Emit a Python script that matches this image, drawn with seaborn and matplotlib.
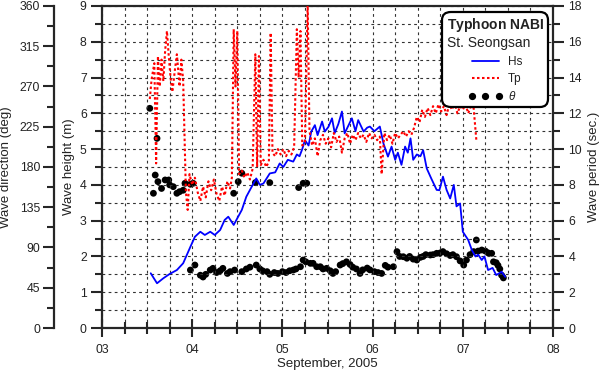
import matplotlib
matplotlib.use("Agg")
import matplotlib.pyplot as plt
from matplotlib.ticker import MultipleLocator, FuncFormatter
from matplotlib.lines import Line2D
import seaborn as sns

# 有义波高 Hs (m)
hs_day = [3.54, 3.61, 3.68, 3.75, 3.83, 3.90, 3.98, 4.03, 4.09, 4.14, 4.20, 4.25, 4.31, 4.36,
          4.40, 4.46, 4.55, 4.60, 4.66, 4.71, 4.75, 4.79, 4.83, 4.86, 4.92, 4.97, 5.01, 5.06,
          5.12, 5.16, 5.19, 5.22, 5.25, 5.29, 5.32, 5.36, 5.39, 5.44, 5.47, 5.51, 5.55, 5.58,
          5.62, 5.66, 5.69, 5.73, 5.77, 5.81, 5.84, 5.90, 5.94, 5.97, 6.02, 6.08, 6.12, 6.17,
          6.21, 6.25, 6.28, 6.32, 6.36, 6.39, 6.42, 6.45, 6.49, 6.53, 6.56, 6.60, 6.65, 6.71,
          6.74, 6.78, 6.82, 6.86, 6.90, 6.93, 6.97, 7.00, 7.06, 7.10, 7.14, 7.17, 7.21, 7.24,
          7.28, 7.33, 7.37, 7.43, 7.47]
hs_m = [1.53, 1.25, 1.39, 1.51, 1.62, 1.81, 2.27, 2.55, 2.69, 2.60, 2.69, 2.60, 2.74, 3.02,
        3.11, 2.88, 3.30, 3.67, 3.95, 4.18, 4.00, 4.04, 4.20, 4.32, 4.35, 4.60, 4.50, 4.70,
        4.65, 4.85, 4.80, 5.00, 5.25, 5.10, 5.49, 5.67, 5.39, 5.77, 5.49, 5.62, 5.86, 5.45,
        5.70, 6.05, 5.44, 5.65, 5.86, 5.50, 5.81, 5.49, 5.60, 5.63, 5.50, 5.63, 5.16, 4.79,
        5.07, 4.70, 4.90, 4.56, 5.07, 4.90, 5.30, 4.70, 4.85, 4.80, 4.97, 4.46, 4.18, 3.86,
        3.85, 4.23, 3.86, 3.62, 4.00, 3.40, 3.48, 2.69, 2.46, 2.18, 2.00, 2.05, 1.90, 2.00,
        1.62, 1.68, 1.48, 1.57, 1.43]

# 峰值周期 Tp (sec)
tp_day = [3.53, 3.55, 3.58, 3.60, 3.62, 3.64, 3.66, 3.68, 3.70, 3.72, 3.74, 3.76, 3.78, 3.81,
          3.83, 3.86, 3.88, 3.90, 3.93, 3.95, 3.97, 4.00, 4.03, 4.06, 4.09, 4.12, 4.15, 4.18,
          4.21, 4.24, 4.27, 4.30, 4.33, 4.36, 4.39, 4.42, 4.44, 4.46, 4.48, 4.50, 4.52, 4.55,
          4.58, 4.61, 4.64, 4.67, 4.70, 4.72, 4.74, 4.76, 4.79, 4.82, 4.85, 4.87, 4.89, 4.92,
          4.95, 4.98, 5.01, 5.04, 5.07, 5.10, 5.13, 5.16, 5.18, 5.20, 5.22, 5.25, 5.28, 5.30,
          5.33, 5.36, 5.39, 5.42, 5.45, 5.48, 5.51, 5.54, 5.57, 5.60, 5.63, 5.66, 5.69, 5.72,
          5.75, 5.78, 5.81, 5.84, 5.87, 5.90, 5.93, 5.96, 5.99, 6.02, 6.05, 6.08, 6.10, 6.13,
          6.16, 6.19, 6.22, 6.25, 6.28, 6.31, 6.34, 6.37, 6.40, 6.43, 6.46, 6.49, 6.52, 6.55,
          6.58, 6.61, 6.64, 6.67, 6.70, 6.73, 6.76, 6.79, 6.82, 6.85, 6.88, 6.91, 6.94, 6.97,
          7.00, 7.03, 7.06, 7.09, 7.12, 7.15]
tp_sec = [12.8, 13.9, 14.8, 9.2, 15.2, 13.5, 15.0, 13.8, 15.5, 16.6, 15.2, 14.0, 13.2, 14.5,
          15.3, 13.5, 15.0, 13.8, 7.6, 6.6, 8.6, 8.0, 8.4, 7.6, 7.1, 7.9, 7.3, 8.2,
          7.7, 8.3, 7.5, 7.1, 7.9, 7.4, 8.2, 7.8, 8.4, 16.7, 13.5, 16.6, 8.6, 8.8,
          8.4, 8.7, 8.3, 8.9, 15.3, 9.0, 15.2, 9.1, 9.4, 9.0, 9.3, 16.5, 9.8, 9.6,
          10.0, 9.7, 10.0, 9.6, 9.9, 9.7, 10.1, 16.7, 14.0, 16.6, 10.2, 10.4, 18.2, 11.0,
          10.2, 10.6, 9.6, 10.5, 10.8, 10.3, 10.6, 10.1, 10.9, 10.4, 10.7, 9.8, 10.6, 10.9,
          10.3, 10.8, 10.5, 10.9, 10.6, 10.8, 10.4, 10.9, 10.6, 10.8, 10.5, 10.7, 8.6, 10.9,
          10.5, 10.8, 10.3, 10.9, 10.6, 10.8, 11.0, 10.7, 11.0, 10.8, 11.2, 11.8, 11.5, 12.2,
          11.8, 12.3, 11.9, 12.4, 12.0, 12.5, 12.1, 12.4, 11.9, 12.5, 12.2, 12.6, 12.0, 12.4,
          12.2, 12.5, 12.0, 12.4, 12.3, 10.5]

# 波向 theta (deg)
dir_day = [3.53, 3.57, 3.59, 3.61, 3.62, 3.66, 3.70, 3.74, 3.75, 3.79, 3.83, 3.86, 3.90, 3.92,
           3.98, 4.01, 4.46, 4.51, 4.55, 4.70, 4.86, 5.18, 5.23, 5.27,
           3.98, 4.03, 4.09, 4.12, 4.15, 4.20, 4.23, 4.27, 4.31, 4.34, 4.39, 4.42, 4.47, 4.55,
           4.60, 4.64, 4.71, 4.75, 4.78, 4.83, 4.86, 4.91, 4.95, 5.00, 5.04, 5.08, 5.12, 5.15,
           5.20, 5.23, 5.26, 5.31, 5.34, 5.38, 5.42, 5.45, 5.49, 5.53, 5.56, 5.59, 5.64, 5.67,
           5.71, 5.75, 5.78, 5.82, 5.86, 5.89, 5.94, 5.97, 6.02, 6.06, 6.10, 6.14, 6.17, 6.23,
           6.27, 6.30, 6.34, 6.38, 6.41, 6.45, 6.49, 6.53, 6.56, 6.59, 6.64, 6.67, 6.71, 6.75,
           6.78, 6.82, 6.86, 6.89, 6.93, 6.97, 7.01, 7.04, 7.08, 7.12, 7.15, 7.17, 7.21, 7.25,
           7.28, 7.32, 7.34, 7.37, 7.39, 7.41, 7.43, 7.45]
dir_deg = [245.6, 150.6, 171.0, 212.0, 163.6, 156.0, 165.5, 165.5, 160.0, 158.0, 150.6, 152.4, 154.0, 161.8,
           160.7, 161.8, 150.6, 163.6, 173.0, 162.5, 162.5, 157.0, 161.8, 161.8,
           64.8, 70.4, 59.0, 57.0, 60.0, 64.8, 66.7, 62.0, 64.0, 66.7, 61.0, 63.0, 64.8, 63.0,
           66.0, 68.0, 70.4, 66.0, 64.0, 63.0, 60.0, 62.0, 61.0, 63.0, 62.0, 64.0, 64.8, 66.0,
           68.5, 76.0, 74.0, 72.3, 72.3, 68.5, 68.5, 66.0, 66.7, 64.0, 61.0, 63.0, 70.4, 72.0,
           74.0, 71.0, 68.0, 66.0, 61.0, 65.0, 67.0, 65.0, 63.0, 62.0, 61.0, 70.0, 68.0, 68.5,
           85.4, 80.0, 79.7, 78.0, 80.0, 77.0, 76.0, 79.0, 80.0, 82.0, 81.6, 82.0, 83.5, 84.0,
           85.4, 83.0, 81.0, 82.0, 79.7, 75.0, 70.4, 76.0, 82.0, 85.4, 98.4, 86.0, 87.2, 86.0,
           84.0, 83.5, 74.0, 73.0, 70.0, 66.0, 59.0, 56.0]

sns.set_style("ticks")
plt.rcParams['font.family'] = ['Liberation Sans', 'DejaVu Sans']
plt.rcParams['mathtext.fontset'] = 'custom'
plt.rcParams['mathtext.rm'] = 'Liberation Sans'
plt.rcParams['mathtext.it'] = 'Liberation Sans:italic'
plt.rcParams['mathtext.bf'] = 'Liberation Sans:bold'

txt = '#222222'
fig = plt.figure(figsize=(6, 3.71), dpi=100)
ax = fig.add_axes([0.17, 0.1159, 0.7517, 0.868])
ax_dir = ax.twinx()
ax_tp = ax.twinx()
ax_dir.set_zorder(0)
ax.set_zorder(1)
ax_tp.set_zorder(2)
for a in (ax, ax_dir, ax_tp):
    a.patch.set_visible(False)

# 波向 (左侧外轴)
sns.scatterplot(x=dir_day, y=dir_deg, ax=ax_dir, color='black', s=24,
                edgecolor='none', legend=False)
# 波高
sns.lineplot(x=hs_day, y=hs_m, ax=ax, color='#0000ff', lw=1.3, estimator=None)
# 周期
sns.lineplot(x=tp_day, y=tp_sec, ax=ax_tp, color='#ff0000', lw=1.5,
             linestyle=(0, (1.2, 1.2)), estimator=None)

ax.set_xlim(3, 8)
ax.set_ylim(0, 9)
ax_dir.set_ylim(0, 360)
ax_tp.set_ylim(0, 18)

ax.xaxis.set_major_locator(MultipleLocator(1))
ax.xaxis.set_minor_locator(MultipleLocator(0.25))
ax.xaxis.set_major_formatter(FuncFormatter(lambda v, p: f"{int(round(v)):02d}"))
ax.yaxis.set_major_locator(MultipleLocator(1))
ax.yaxis.set_minor_locator(MultipleLocator(0.5))
ax_dir.yaxis.set_major_locator(MultipleLocator(45))
ax_dir.yaxis.set_minor_locator(MultipleLocator(22.5))
ax_tp.yaxis.set_major_locator(MultipleLocator(2))
ax_tp.yaxis.set_minor_locator(MultipleLocator(1))

ax.grid(True, which='both', color='#333333', lw=0.8, linestyle=(0, (2.5, 3)))

# 轴线
for s in ('left', 'bottom', 'top'):
    ax.spines[s].set_linewidth(1.6)
ax.spines['right'].set_visible(False)
for s in ('right', 'top', 'bottom'):
    ax_dir.spines[s].set_visible(False)
ax_dir.spines['left'].set_position(('axes', -0.1064))
ax_dir.spines['left'].set_linewidth(1.6)
ax_dir.yaxis.set_ticks_position('left')
ax_dir.yaxis.set_label_position('left')
for s in ('left', 'top', 'bottom'):
    ax_tp.spines[s].set_visible(False)
ax_tp.spines['right'].set_linewidth(1.6)

fs = 8.8
ax.tick_params(axis='x', which='major', direction='inout', length=13, width=1.5,
               labelsize=fs, labelcolor=txt, pad=5)
ax.tick_params(axis='x', which='minor', direction='inout', length=9, width=1.5)
ax.tick_params(axis='y', which='major', direction='out', length=8, width=1.5,
               labelsize=fs, labelcolor=txt, pad=3)
ax.tick_params(axis='y', which='minor', direction='out', length=5, width=1.5)
ax_dir.tick_params(axis='y', which='major', direction='out', length=8, width=1.5,
                   labelsize=fs, labelcolor=txt, pad=2)
ax_dir.tick_params(axis='y', which='minor', direction='out', length=5, width=1.5)
ax_tp.tick_params(axis='y', which='major', direction='out', length=8, width=1.5,
                  labelsize=fs, labelcolor=txt, pad=3)
ax_tp.tick_params(axis='y', which='minor', direction='out', length=5, width=1.5)

ax.set_xlabel('September, 2005', fontsize=9.5, color=txt)
ax.xaxis.set_label_coords(0.5, -0.093)
ax.set_ylabel('Wave height (m)', fontsize=9.5, color=txt)
ax.yaxis.set_label_coords(-0.06, 0.5)
ax_dir.set_ylabel('Wave direction (deg)', fontsize=9.5, color=txt)
ax_dir.yaxis.set_label_coords(-0.199, 0.5)
ax_tp.set_ylabel('Wave period (sec.)', fontsize=9.5, color=txt)
ax_tp.yaxis.set_label_coords(1.078, 0.5)

handles = [
    Line2D([], [], color='#0000ff', lw=1.3),
    Line2D([], [], color='#ff0000', lw=1.5, linestyle=(0, (1.2, 1.2))),
    Line2D([], [], color='black', marker='o', linestyle='none', markersize=4.2),
]
leg = ax_tp.legend(handles, ['Hs', 'Tp', r'$\theta$'],
                   title=r'$\mathbf{Typhoon\ NABI}$' + '\nSt. Seongsan',
                   loc='upper right', bbox_to_anchor=(0.989, 0.981), borderaxespad=0,
                   fontsize=8.5, title_fontsize=10, numpoints=3, handlelength=2.9,
                   handletextpad=0.5, labelspacing=0.45, fancybox=True,
                   framealpha=1, edgecolor='black', borderpad=0.35)
leg.get_frame().set_linewidth(1.6)
leg.get_frame().set_boxstyle('round,pad=0,rounding_size=0.7')
for t in leg.get_texts():
    t.set_color(txt)
leg.get_title().set_color(txt)

fig.savefig('out.png', dpi=100)
